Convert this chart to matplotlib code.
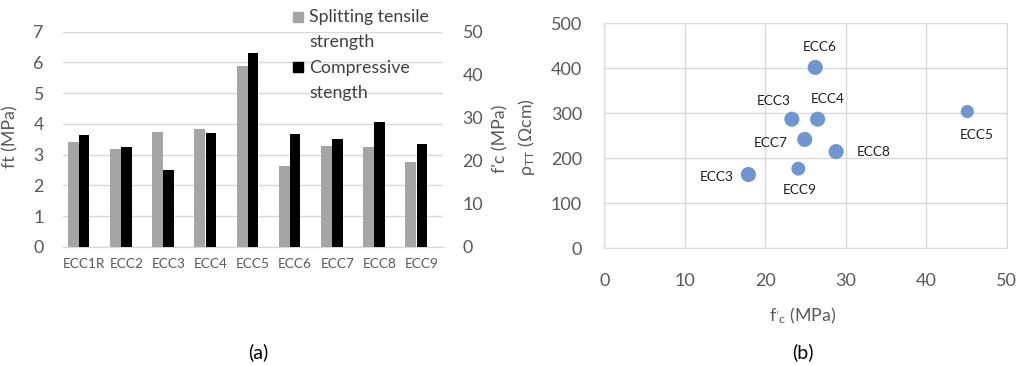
import numpy as np
import matplotlib
matplotlib.use("Agg")
import matplotlib.pyplot as plt
from matplotlib.patches import Rectangle

plt.rcParams["font.family"] = ["Lato", "DejaVu Sans"]
plt.rcParams["mathtext.fontset"] = "custom"
plt.rcParams["mathtext.rm"] = "Lato"
plt.rcParams["mathtext.it"] = "Lato:italic"
plt.rcParams["mathtext.fallback"] = "stixsans"

# =========================
# Data
# =========================
mixes = ["ECC1R", "ECC2", "ECC3", "ECC4", "ECC5", "ECC6", "ECC7", "ECC8", "ECC9"]
tensile = [3.40, 3.18, 3.75, 3.83, 5.88, 2.64, 3.29, 3.25, 2.76]          # ft (MPa)
compressive = [26.1, 23.3, 17.8, 26.5, 45.0, 26.3, 25.0, 28.9, 24.0]     # f'c (MPa)

point_labels = ["ECC6", "ECC3", "ECC4", "ECC7", "ECC8", "ECC9", "ECC3", "ECC5"]
fc_points = [26.2, 23.3, 26.5, 24.9, 28.8, 24.1, 17.9, 45.1]
rho_points = [402, 287, 287, 242, 215, 177, 164, 304]

# label offsets (pixels) and marker sizes for the scatter
label_offsets = [(5, 20), (-18, 18), (10, 20), (-34, -4), (38, 0), (1, -21), (-32, -2), (9, -23)]
marker_sizes = [118, 118, 118, 118, 118, 100, 118, 90]

TICK = "#595959"
GRID = "#D9D9D9"

fig = plt.figure(figsize=(10.2, 3.65), dpi=100)

# =========================
# (a) bar chart, two y axes
# =========================
ax1 = fig.add_axes([0.0618, 0.324, 0.3725, 0.589])
ax2 = ax1.twinx()
x = np.arange(len(mixes))

ax1.bar(x - 0.26, tensile, width=0.26, color="#A5A5A5", zorder=3)
ax2.bar(x, compressive, width=0.245, color="black", zorder=3)

ax1.set_xlim(-0.5, len(mixes) - 0.5)
ax1.set_ylim(0, 7)
ax2.set_ylim(0, 50)
ax1.set_yticks(range(0, 8))
ax2.set_yticks(range(0, 51, 10))
ax1.set_xticks(x)
ax1.set_xticklabels(mixes, fontsize=9.8, color=TICK)
ax1.tick_params(axis="x", length=0, pad=8)
ax1.tick_params(axis="y", length=0, pad=14, labelsize=12.8, labelcolor=TICK)
ax2.tick_params(axis="y", length=0, pad=14, labelsize=12.8, labelcolor=TICK)
ax1.grid(axis="y", color=GRID, linewidth=1, zorder=0)
for ax in (ax1, ax2):
    for side in ("top", "left", "right"):
        ax.spines[side].set_visible(False)
    ax.spines["bottom"].set_color(GRID)

ax1.set_ylabel("ft (MPa)", fontsize=12.8, color=TICK)
ax1.yaxis.set_label_coords(-0.118, 0.51)
ax2.set_ylabel("f'c (MPa)", fontsize=12.8, color=TICK)
ax2.yaxis.set_label_coords(1.129, 0.5)

# legend drawn by hand, top right of panel (a); one text per line
W, H = 1020, 365
legend_items = [("#A5A5A5", ["Splitting tensile", "strength"], 17, [21.7, 47.5]),
                ("black", ["Compressive", "stength"], 67, [72.7, 98.0])]
for color, lines, yc, baselines in legend_items:
    fig.add_artist(Rectangle((293 / W, 1 - (yc + 5) / H), 10 / W, 10 / H,
                             transform=fig.transFigure, color=color))
    for line, yb in zip(lines, baselines):
        fig.text(309 / W, 1 - yb / H, line, fontsize=12.8, color="#404040",
                 va="baseline", ha="left")

# =========================
# (b) scatter
# =========================
ax3 = fig.add_axes([0.5925, 0.3197, 0.3945, 0.6164])
ax3.scatter(fc_points, rho_points, s=marker_sizes, color="#7096D2", zorder=3,
            linewidths=0)
for lab, xv, yv, (dx, dy) in zip(point_labels, fc_points, rho_points, label_offsets):
    ax3.annotate(lab, (xv, yv), xytext=(dx, dy), textcoords="offset pixels",
                 ha="center", va="center", fontsize=9.8, color="#1F1F1F")

ax3.set_xlim(0, 50)
ax3.set_ylim(0, 500)
ax3.set_xticks(range(0, 51, 10))
ax3.set_yticks(range(0, 501, 100))
ax3.grid(True, color=GRID, linewidth=1, zorder=0)
for side in ax3.spines:
    ax3.spines[side].set_color(GRID)
ax3.tick_params(axis="both", length=0, labelsize=13, labelcolor=TICK)
ax3.tick_params(axis="y", pad=16)
ax3.tick_params(axis="x", pad=18)

ax3.set_xlabel(r"f$_{\mathrm{'c}}$ (MPa)", fontsize=12.8, color=TICK)
ax3.xaxis.set_label_coords(0.494, -0.256)
ax3.set_ylabel(r"ρ$_{\mathrm{TT}}$ (Ωcm)", fontsize=12.8, color=TICK)
ax3.yaxis.set_label_coords(-0.167, 0.495)

fig.text(258 / W, 1 - 352 / H, "(a)", fontsize=14, ha="center", va="center")
fig.text(803 / W, 1 - 352 / H, "(b)", fontsize=14, ha="center", va="center")

fig.savefig("out.png", dpi=100)
